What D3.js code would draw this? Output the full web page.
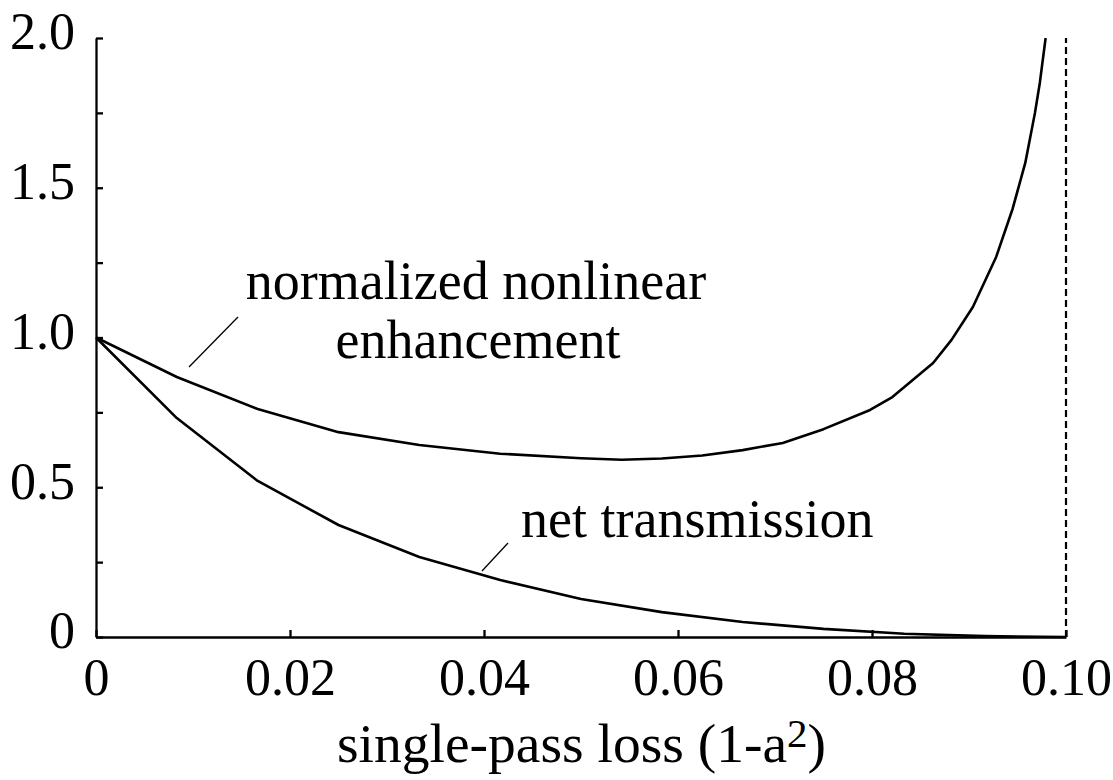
<!DOCTYPE html>
<html>
<head>
<meta charset="utf-8">
<script src="https://cdn.jsdelivr.net/npm/d3@7/dist/d3.min.js"></script>
<style>
  html, body { margin: 0; padding: 0; background: #fff; }
  svg text { font-family: "Liberation Serif", "Times New Roman", serif; fill: #000; }
</style>
</head>
<body>
<svg id="chart" width="1113" height="780"></svg>
<script>
// single-pass loss grid for the net transmission curve
const lossGrid = [0, 0.00833, 0.01667, 0.025, 0.03333, 0.04167, 0.05, 0.05833, 0.06667, 0.075, 0.08333, 0.09167, 0.1];
const netTransmission = [1.0, 0.731, 0.521, 0.374, 0.267, 0.190, 0.127, 0.083, 0.050, 0.027, 0.011, 0.003, 0.0];

// enhancement curve is sampled more finely where it turns upward
const enhancementLoss = [0, 0.00833, 0.01667, 0.025, 0.03333, 0.04167, 0.05, 0.0542, 0.05833, 0.0625, 0.06667, 0.0708, 0.075, 0.0798, 0.0821, 0.0842, 0.0863, 0.0882, 0.0904, 0.0928, 0.0945, 0.0958, 0.0968, 0.0973, 0.0979];
const enhancement = [1.0, 0.868, 0.761, 0.684, 0.641, 0.612, 0.597, 0.592, 0.596, 0.606, 0.624, 0.648, 0.694, 0.758, 0.801, 0.858, 0.915, 0.992, 1.102, 1.269, 1.430, 1.583, 1.750, 1.850, 2.0];

const xTicks = [0, 0.02, 0.04, 0.06, 0.08, 0.10];
const xTickLabels = ["0", "0.02", "0.04", "0.06", "0.08", "0.10"];
const yTicks = [0, 0.25, 0.5, 0.75, 1.0, 1.25, 1.5, 1.75, 2.0];
const yTickLabels = ["0", "", "0.5", "", "1.0", "", "1.5", "", "2.0"];
const cutoffLoss = 0.10;

const svg = d3.select("#chart");
const margin = { left: 96, right: 1066, top: 38, bottom: 637 };

const x = d3.scaleLinear().domain([0, 0.10]).range([margin.left, margin.right]);
const y = d3.scaleLinear().domain([0, 2.0]).range([margin.bottom, margin.top]);

const tickFont = 52;
const labelFont = 54;
const titleFont = 55.5;

// y axis, ticks pointing inward
const yAxis = svg.append("g")
  .attr("transform", `translate(${margin.left},0)`)
  .call(d3.axisLeft(y)
    .tickValues(yTicks)
    .tickFormat((d, i) => yTickLabels[i])
    .tickSizeInner(-7)
    .tickSizeOuter(0)
    .tickPadding(21));
yAxis.selectAll("text").attr("dy", "0.21em").style("font-size", tickFont + "px");

// x axis, ticks pointing inward
const xAxis = svg.append("g")
  .attr("transform", `translate(0,${margin.bottom})`)
  .call(d3.axisBottom(x)
    .tickValues(xTicks)
    .tickFormat((d, i) => xTickLabels[i])
    .tickSizeInner(-7)
    .tickSizeOuter(0)
    .tickPadding(21));
xAxis.selectAll("text").style("font-size", tickFont + "px");

svg.selectAll(".domain, .tick line").attr("stroke", "#000").attr("stroke-width", 2.3);

// dashed cutoff at maximum loss
svg.append("line")
  .attr("x1", x(cutoffLoss)).attr("x2", x(cutoffLoss))
  .attr("y1", y(0)).attr("y2", y(2.0))
  .attr("stroke", "#000").attr("stroke-width", 2.2)
  .attr("stroke-dasharray", "7,4");

svg.append("clipPath").attr("id", "plot-clip")
  .append("rect")
  .attr("x", margin.left).attr("y", margin.top)
  .attr("width", margin.right - margin.left)
  .attr("height", margin.bottom - margin.top);

const line = d3.line().x(d => x(d[0])).y(d => y(d[1])).curve(d3.curveLinear);

svg.append("path")
  .datum(enhancementLoss.map((l, i) => [l, enhancement[i]]))
  .attr("d", line)
  .attr("fill", "none").attr("stroke", "#000").attr("stroke-width", 2.6)
  .attr("stroke-linejoin", "round")
  .attr("clip-path", "url(#plot-clip)");

svg.append("path")
  .datum(lossGrid.map((l, i) => [l, netTransmission[i]]))
  .attr("d", line)
  .attr("fill", "none").attr("stroke", "#000").attr("stroke-width", 2.6)
  .attr("stroke-linejoin", "round");

// curve annotations with leader lines
const ann = svg.append("g").style("font-size", labelFont + "px");
ann.append("text").attr("x", 476).attr("y", 299).attr("text-anchor", "middle").text("normalized nonlinear");
ann.append("text").attr("x", 478).attr("y", 358).attr("text-anchor", "middle").text("enhancement");
ann.append("text").attr("x", 521).attr("y", 537).text("net transmission");

svg.append("line").attr("x1", 238).attr("y1", 317).attr("x2", 189).attr("y2", 367)
  .attr("stroke", "#000").attr("stroke-width", 1.3);
svg.append("line").attr("x1", 508).attr("y1", 543).attr("x2", 482).attr("y2", 571)
  .attr("stroke", "#000").attr("stroke-width", 1.3);

// x axis title with superscript
const title = svg.append("text")
  .attr("x", 581.5)
  .attr("y", 762)
  .attr("text-anchor", "middle")
  .style("font-size", titleFont + "px");
title.append("tspan").text("single-pass loss (1-a");
title.append("tspan").attr("dy", -15).style("font-size", "41px").text("2");
title.append("tspan").attr("dy", 15).text(")");
</script>
</body>
</html>
